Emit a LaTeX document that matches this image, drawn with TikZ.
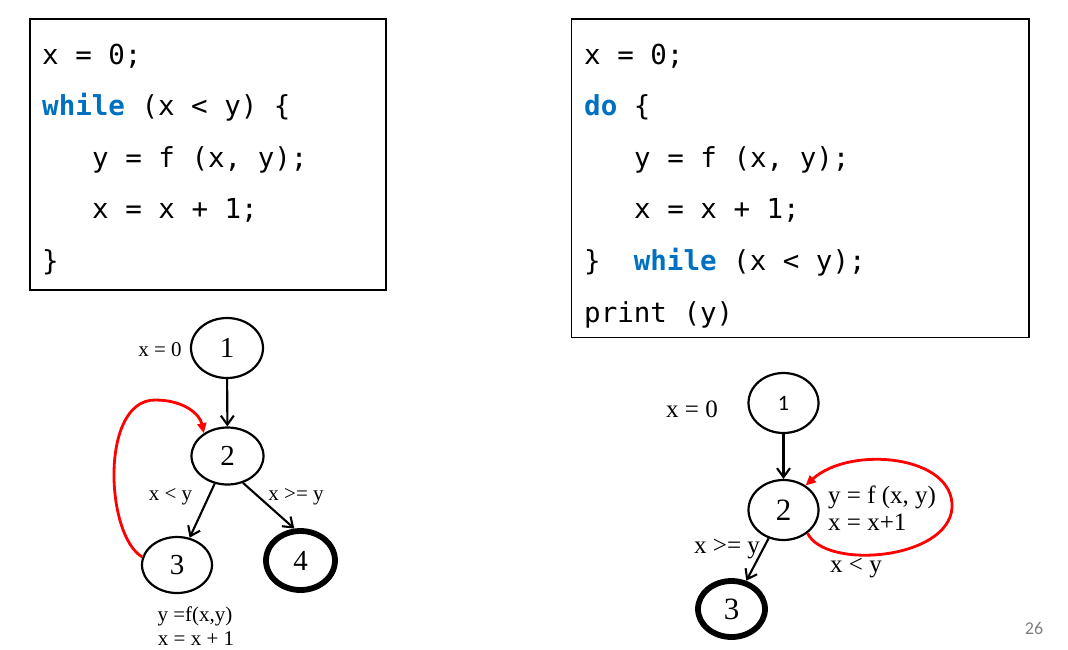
\documentclass[tikz,border=0pt]{standalone}
\usepackage{fontspec}
\setmainfont{Liberation Serif}
\newfontfamily\codefont{DejaVu Sans Mono}
\newfontfamily\calib{Carlito}
\usetikzlibrary{shapes.geometric,arrows.meta}
\definecolor{kwblue}{HTML}{0070C0}
\definecolor{pagegray}{HTML}{7F7F7F}
\newcommand\kwd[1]{\textcolor{kwblue}{\bfseries #1}}
\tikzset{
  codeline/.style={anchor=base west, inner sep=0pt, font=\codefont\fontsize{27.5}{33}\selectfont},
  cbox/.style={draw, line width=1.4pt},
  ell/.style={ellipse, draw, line width=2.2pt, inner sep=0pt, font=\fontsize{29}{32}\selectfont},
  thickell/.style={ell, line width=5.8pt},
  lbl/.style={anchor=base, inner sep=0pt, font=\fontsize{21}{25}\selectfont},
  lblr/.style={inner sep=0pt, font=\fontsize{25}{29}\selectfont},
  arr/.style={-{Straight Barb[length=9pt,width=13pt]}, line width=2.1pt},
  redarr/.style={-{Triangle[length=10pt,width=9pt]}, red, line width=2.8pt},
}
\begin{document}
\begin{tikzpicture}[x=1pt,y=-1pt]
\useasboundingbox (0,0) rectangle (1068,649);
% ---------- left code box
\draw[cbox] (30,19) rectangle (386,290);
\node[codeline] (c1) at (42,64) {x = 0;};
\node[codeline] (c2) at (42,115.5) {\kwd{while} (x < y) \{};
\node[codeline] (c3) at (92,167) {y = f (x, y);};
\node[codeline] (c4) at (92,218.5) {x = x + 1;};
\node[codeline] (c5) at (42,270) {\}};
% ---------- right code box
\draw[cbox] (571.5,19) rectangle (1029,337.5);
\node[codeline] (d1) at (584,64) {x = 0;};
\node[codeline] (d2) at (584,115.5) {\kwd{do} \{};
\node[codeline] (d3) at (634,167) {y = f (x, y);};
\node[codeline] (d4) at (634,218.5) {x = x + 1;};
\node[codeline] (d5) at (584,270) {\}\ \ \kwd{while} (x < y);};
\node[codeline] (d6) at (584,322) {print (y)};
% ---------- left graph
\node[ell, minimum width=72pt, minimum height=60pt] (l1) at (227,348) {1};
\node[ell, minimum width=72pt, minimum height=57pt] (l2) at (227.5,456) {2};
\node[ell, minimum width=70pt, minimum height=56pt] (l3) at (177,565) {3};
\node[thickell, minimum width=69pt, minimum height=59pt] (l4) at (300.5,560.5) {4};
\node[lbl] (t1) at (160,356) {x = 0};
\node[lbl] (t2) at (170.5,500) {x < y};
\node[lbl] (t3) at (296,500) {x >= y};
\node[lbl] (t4) at (195,621) {y =f(x,y)};
\node[lbl] (t5) at (196,645) {x = x + 1};
\draw[arr] (l1) -- (l2);
\draw[arr] (l2) -- (l3);
\draw[arr] (l2.-60) -- (l4.101);
\draw[redarr] (l3.167) .. controls (105,535) and (100,400) .. (155,400)
   .. controls (185,400) and (200,415) .. (l2.136);
% ---------- right graph
\node[ell, minimum width=70pt, minimum height=60pt, font=\calib\fontsize{22}{26}\selectfont] (r1) at (783.5,403) {1};
\node[ell, minimum width=70pt, minimum height=60pt, font=\fontsize{31}{34}\selectfont] (r2) at (783.5,510) {2};
\node[thickell, minimum width=67pt, minimum height=56pt, font=\fontsize{31}{34}\selectfont] (r3) at (731.5,609) {3};
\node[lblr, anchor=base] (s1) at (692,417) {x = 0};
\node[lblr, anchor=base west] (s2) at (828,503) {y = f (x, y)};
\node[lblr, anchor=base west] (s3) at (828,530) {x = x+1};
\node[lblr, anchor=base] (s4) at (727,553) {x >= y};
\node[lblr, anchor=base] (s5) at (856,572) {x < y};
\draw[arr] (r1) -- (r2);
\draw[arr] (r2) -- (r3);
\draw[redarr] (r2.-44) .. controls (825,570) and (948,560) .. (952,508)
   .. controls (955,455) and (850,445) .. (r2.48);
% ---------- page number
\node[inner sep=0pt, text=pagegray, font=\calib\fontsize{18}{21}\selectfont] (pg) at (1034,628) {26};
\end{tikzpicture}
\end{document}
